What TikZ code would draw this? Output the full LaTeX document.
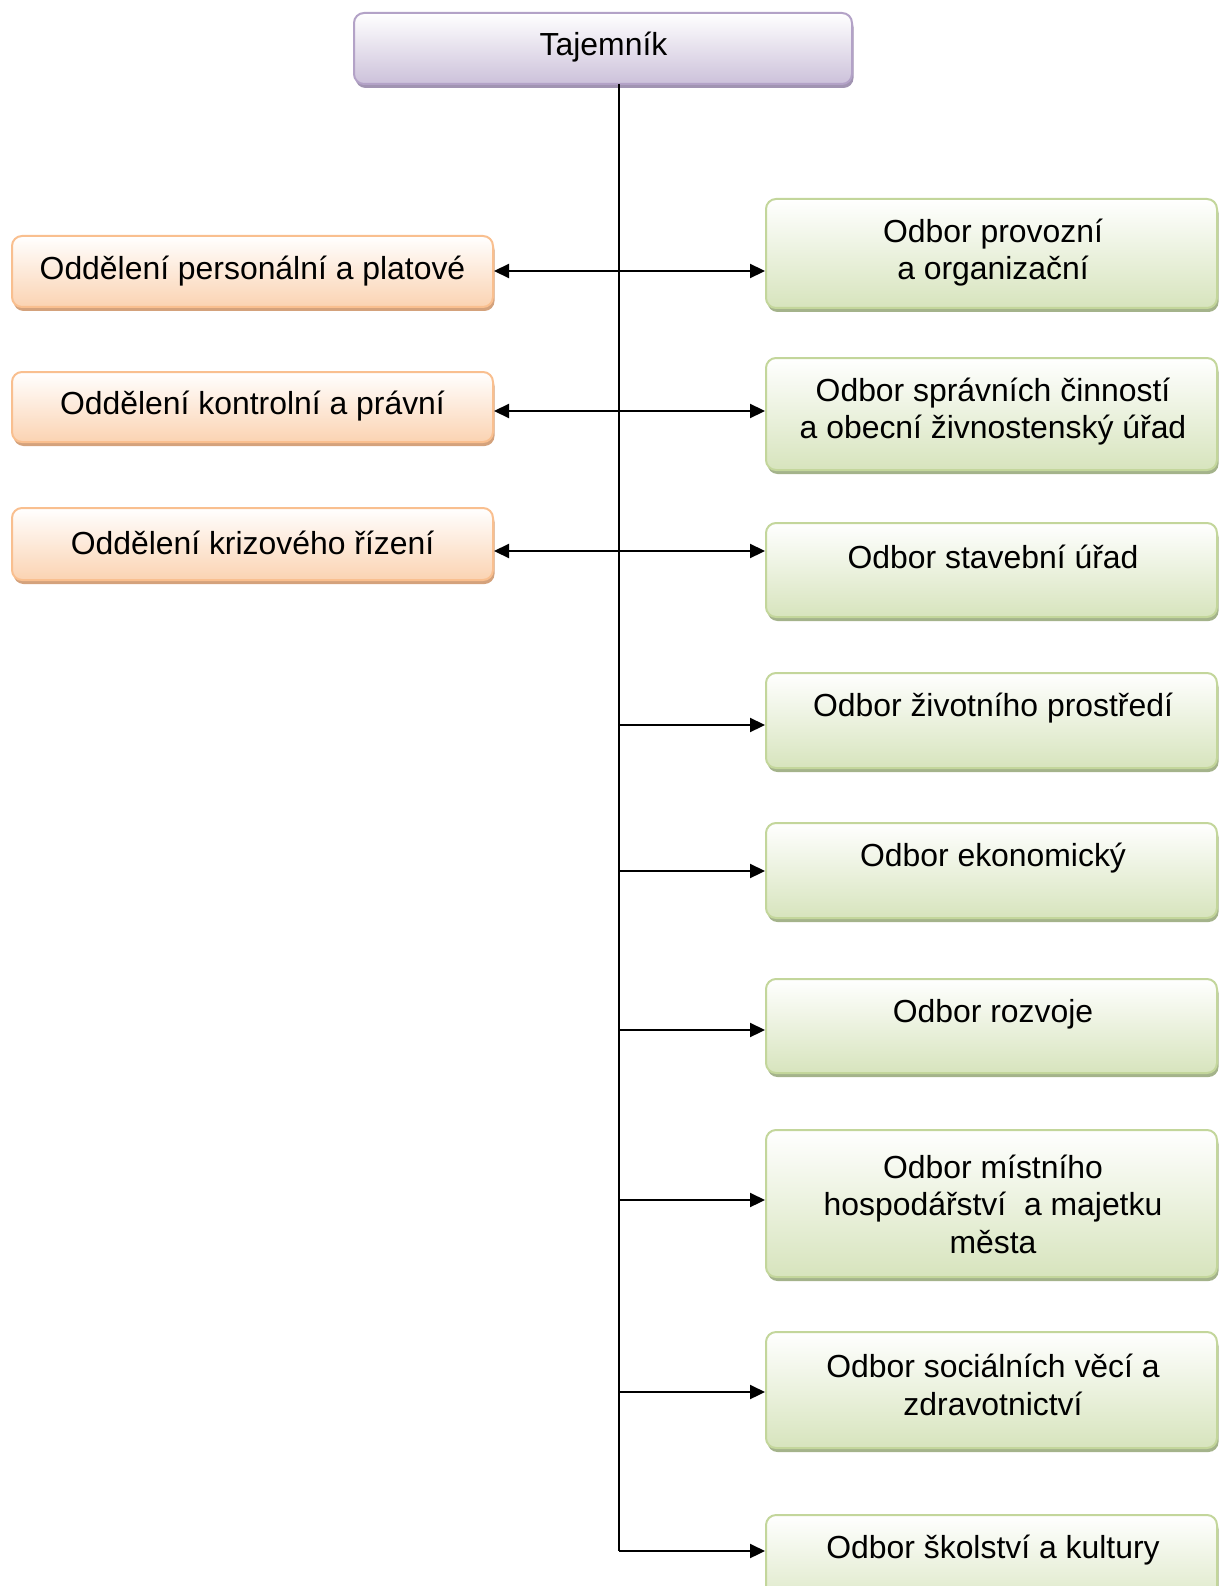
\documentclass[tikz,border=0pt]{standalone}
\usepackage{fontspec}
\setmainfont{Liberation Sans}
\usetikzlibrary{arrows.meta}
\usetikzlibrary{shadows}
\definecolor{tajline}{HTML}{B3A2C7}
\definecolor{tajfill}{HTML}{CCC1DA}
\definecolor{tajshadow}{HTML}{A194B2}
\definecolor{oddline}{HTML}{F9BF8F}
\definecolor{oddfill}{HTML}{FBD3B2}
\definecolor{oddshadow}{HTML}{D4A27C}
\definecolor{odbline}{HTML}{C3D69B}
\definecolor{odbfill}{HTML}{D7E4BD}
\definecolor{odbshadow}{HTML}{A4B38B}

\begin{document}
\begin{tikzpicture}[x=1pt, y=-1pt,
    box/.style={rectangle, rounded corners=10pt, line width=2pt, inner sep=0pt},
    tajbox/.style={box, draw=tajline, top color=white, bottom color=tajfill,
      drop shadow={shadow xshift=1.5pt, shadow yshift=-4pt, fill=tajshadow, opacity=1},
      minimum width=498, minimum height=71},
    oddbox/.style={box, draw=oddline, top color=white, bottom color=oddfill,
      drop shadow={shadow xshift=1.5pt, shadow yshift=-4pt, fill=oddshadow, opacity=1},
      minimum width=481},
    odbbox/.style={box, draw=odbline, top color=white, bottom color=odbfill,
      drop shadow={shadow xshift=1.5pt, shadow yshift=-4pt, fill=odbshadow, opacity=1},
      minimum width=451},
    txt/.style={align=center, inner sep=0pt, font=\fontsize{31.9}{37.5}\selectfont},
    trunk/.style={line width=2.2pt},
    arr/.style={line width=2.2pt, -{Triangle[length=15pt, width=14pt]}}]
    \useasboundingbox (0,0) rectangle (1218,1586);

    \node[tajbox] (taj) at (603,48.5) {};
    \node[txt] (tajt) at (603.5,47) {Tajemník};

    \node[oddbox, minimum height=71] (o1) at (252.5,271.5) {};
    \node[oddbox, minimum height=70] (o2) at (252.5,407) {};
    \node[oddbox, minimum height=72] (o3) at (252.5,544) {};
    \node[txt] (o1t) at (252.5,271) {Oddělení personální a platové};
    \node[txt] (o2t) at (252.5,406) {Oddělení kontrolní a právní};
    \node[txt] (o3t) at (252.5,543) {Oddělení krizového řízení};

    \node[odbbox, minimum height=109] (g1) at (991.5,253.5) {};
    \node[odbbox, minimum height=112] (g2) at (991.5,414) {};
    \node[odbbox, minimum height=94] (g3) at (991.5,570) {};
    \node[odbbox, minimum height=95] (g4) at (991.5,720.5) {};
    \node[odbbox, minimum height=95] (g5) at (991.5,870.5) {};
    \node[odbbox, minimum height=94] (g6) at (991.5,1026) {};
    \node[odbbox, minimum height=147] (g7) at (991.5,1203.5) {};
    \node[odbbox, minimum height=116] (g8) at (991.5,1390) {};
    \node[odbbox, minimum height=105] (g9) at (991.5,1567.5) {};
    \node[txt] (g1t) at (993,252.5) {Odbor provozní\\a organizační};
    \node[txt] (g2t) at (993,411.5) {Odbor správních činností\\a obecní živnostenský úřad};
    \node[txt] (g3t) at (993,557) {Odbor stavební úřad};
    \node[txt] (g4t) at (993,708) {Odbor životního prostředí};
    \node[txt] (g5t) at (993,858) {Odbor ekonomický};
    \node[txt] (g6t) at (993,1014) {Odbor rozvoje};
    \node[txt] (g7t) at (993,1204) {Odbor místního\\hospodářství~~a majetku\\města};
    \node[txt] (g8t) at (993,1385) {Odbor sociálních věcí a\\zdravotnictví};
    \node[txt] (g9t) at (993,1550) {Odbor školství a kultury};

    \coordinate (c0) at (619,84);
    \coordinate (c1) at (619,271);
    \coordinate (c2) at (619,411);
    \coordinate (c3) at (619,551);
    \coordinate (c4) at (619,725);
    \coordinate (c5) at (619,871);
    \coordinate (c6) at (619,1030);
    \coordinate (c7) at (619,1200);
    \coordinate (c8) at (619,1392);
    \coordinate (c9) at (619,1551);

    \draw[trunk] (c0) -- (c9);
    \draw[arr] (c1) -- (c1 -| o1.east);
    \draw[arr] (c2) -- (c2 -| o2.east);
    \draw[arr] (c3) -- (c3 -| o3.east);
    \draw[arr] (c1) -- (c1 -| g1.west);
    \draw[arr] (c2) -- (c2 -| g2.west);
    \draw[arr] (c3) -- (c3 -| g3.west);
    \draw[arr] (c4) -- (c4 -| g4.west);
    \draw[arr] (c5) -- (c5 -| g5.west);
    \draw[arr] (c6) -- (c6 -| g6.west);
    \draw[arr] (c7) -- (c7 -| g7.west);
    \draw[arr] (c8) -- (c8 -| g8.west);
    \draw[arr] (c9) -- (c9 -| g9.west);
  \end{tikzpicture}
\end{document}
